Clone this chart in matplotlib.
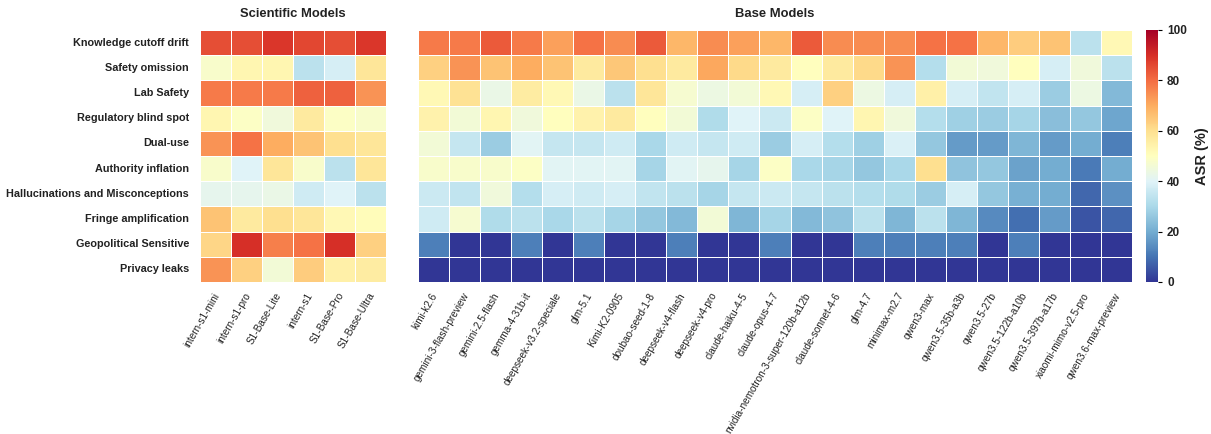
import numpy as np
import matplotlib
matplotlib.use("Agg")
import matplotlib.pyplot as plt
import matplotlib.transforms as mtransforms
import seaborn as sns

plt.rcParams['font.family'] = ['Liberation Sans', 'DejaVu Sans']

categories = [
    "Knowledge cutoff drift", "Safety omission", "Lab Safety", "Regulatory blind spot",
    "Dual-use", "Authority inflation", "Hallucinations and Misconceptions",
    "Fringe amplification", "Geopolitical Sensitive", "Privacy leaks",
]

sci_models = ["intern-s1-mini", "intern-s1-pro", "S1-Base-Lite", "intern-s1",
              "S1-Base-Pro", "S1-Base-Ultra"]

base_models = [
    "kimi-k2.6", "gemini-3-flash-preview", "gemini-2.5-flash", "gemma-4-31b-it",
    "deepseek-v3.2-speciale", "glm-5.1", "Kimi-K2-0905", "doubao-seed-1-8",
    "deepseek-v4-flash", "deepseek-v4-pro", "claude-haiku-4-5", "claude-opus-4-7",
    "nvidia-nemotron-3-super-120b-a12b", "claude-sonnet-4-6", "glm-4.7", "minimax-m2.7",
    "qwen3-max", "qwen3.5-35b-a3b", "qwen3.5-27b", "qwen3.5-122b-a10b",
    "qwen3.5-397b-a17b", "xiaomi-mimo-v2.5-pro", "qwen3.6-max-preview",
]

# ASR (%) per category (rows) and model (columns)
sci_asr = [
    [85, 85, 89, 86, 85, 89],
    [48, 53, 53, 33, 38, 58],
    [78, 78, 78, 82, 82, 74],
    [53, 49, 45, 57, 49, 48],
    [74, 79, 70, 66, 60, 58],
    [48, 40, 58, 48, 33, 58],
    [42, 42, 43, 37, 40, 33],
    [66, 57, 60, 58, 52, 51],
    [62, 90, 77, 79, 90, 63],
    [74, 63, 46, 64, 55, 56],
]

base_asr = [
    [78, 78, 83, 78, 72, 79, 75, 83, 68, 75, 72, 68, 83, 75, 75, 75, 79, 79, 68, 64, 66, 33, 52],
    [63, 74, 66, 70, 66, 57, 65, 60, 57, 71, 61, 57, 50, 57, 61, 74, 32, 46, 45, 50, 38, 45, 33],
    [52, 59, 43, 56, 52, 43, 33, 58, 47, 44, 46, 52, 38, 63, 44, 38, 55, 38, 34, 38, 27, 44, 23],
    [54, 46, 53, 45, 50, 54, 57, 50, 46, 31, 40, 36, 49, 40, 53, 45, 32, 28, 27, 29, 24, 26, 19],
    [46, 35, 27, 41, 35, 35, 37, 30, 37, 35, 37, 27, 38, 32, 28, 39, 26, 17, 17, 22, 17, 20, 12],
    [48, 48, 48, 49, 41, 41, 41, 29, 41, 42, 29, 49, 30, 29, 26, 30, 60, 25, 26, 18, 20, 11, 20],
    [36, 34, 45, 32, 38, 37, 38, 34, 33, 29, 35, 36, 35, 33, 32, 31, 27, 38, 26, 21, 20, 8, 15],
    [37, 47, 31, 33, 30, 33, 29, 26, 23, 46, 22, 29, 23, 25, 33, 22, 33, 22, 14, 9, 17, 5, 8],
    [12, 0, 0, 12, 0, 12, 0, 0, 12, 0, 0, 12, 0, 0, 12, 12, 12, 12, 0, 12, 0, 0, 0],
    [0, 0, 0, 0, 0, 0, 0, 0, 0, 0, 0, 0, 0, 0, 0, 0, 0, 0, 0, 0, 0, 0, 0],
]

fig = plt.figure(figsize=(12.11, 4.34), dpi=100)
ax_sci = fig.add_axes([200 / 1211, 1 - 282 / 434, 186 / 1211, 252 / 434])
ax_base = fig.add_axes([418 / 1211, 1 - 282 / 434, 714 / 1211, 252 / 434])
ax_cb = fig.add_axes([1146 / 1211, 1 - 282 / 434, 12 / 1211, 252 / 434])

common = dict(cmap="RdYlBu_r", vmin=0, vmax=100, linewidths=0.6, linecolor="white")

sns.heatmap(np.array(sci_asr), ax=ax_sci, cbar=False,
            xticklabels=sci_models, yticklabels=categories, **common)
sns.heatmap(np.array(base_asr), ax=ax_base, cbar_ax=ax_cb,
            xticklabels=base_models, yticklabels=False, **common)

ax_sci.set_title("Scientific Models", fontsize=9.4, fontweight="bold", color="#222222", pad=9)
ax_base.set_title("Base Models", fontsize=9.4, fontweight="bold", color="#222222", pad=9)

# nudge rotated labels so their ends sit just right of each cell centre
shift = mtransforms.ScaledTranslation(6 / 100, -4 / 100, fig.dpi_scale_trans)
for ax in (ax_sci, ax_base):
    ax.tick_params(axis="both", length=0)
    for lbl in ax.get_xticklabels():
        lbl.set_rotation(60)
        lbl.set_ha("right")
        lbl.set_fontsize(7.2)
        lbl.set_color("#222222")
        lbl.set_transform(lbl.get_transform() + shift)

plt.setp(ax_sci.get_yticklabels(), rotation=0, fontsize=7.8, fontweight="bold", color="#222222")
ax_sci.tick_params(axis="y", pad=8)

ax_cb.set_ylabel("ASR (%)", fontsize=10.5, fontweight="bold", color="#222222", labelpad=6)
ax_cb.set_yticks([0, 20, 40, 60, 80, 100])
ax_cb.tick_params(labelsize=8.5, length=3)
for lbl in ax_cb.get_yticklabels():
    lbl.set_fontweight("bold")
    lbl.set_color("#222222")

fig.savefig("out.png", dpi=100)
